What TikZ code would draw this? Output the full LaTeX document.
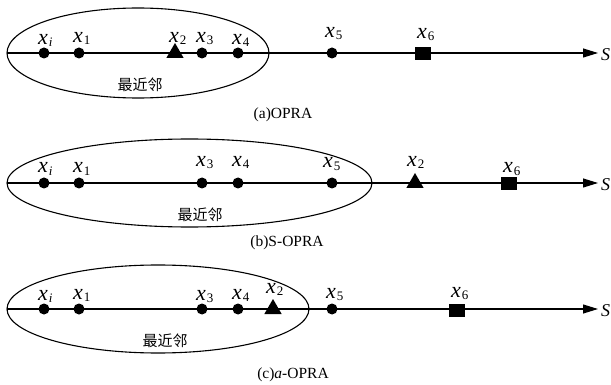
\documentclass[tikz,border=0pt]{standalone}
\usepackage{fontspec}
\setmainfont{Liberation Serif}
\newfontfamily\cjk{Noto Sans CJK SC}
\usetikzlibrary{arrows.meta,shapes.geometric}

% point label: italic x with a lowered subscript
\newcommand{\xlab}[1]{\fontsize{22}{22}\selectfont\textit{x}\kern1pt\fontsize{13}{13}\selectfont\raisebox{-2pt}{#1}}

\tikzset{
  axis/.style={line width=1.1pt,-{Triangle[length=15pt,width=9pt]}},
  hood/.style={draw,line width=1.1pt},
  dot/.style={circle,fill=black,inner sep=0pt,minimum size=11pt},
  tri/.style={regular polygon,regular polygon sides=3,fill=black,inner sep=0pt,minimum size=20pt},
  sq/.style={rectangle,fill=black,inner sep=0pt,minimum width=16pt,minimum height=13pt},
  plabel/.style={anchor=base west,inner sep=0pt},
  slabel/.style={anchor=west,inner sep=0pt,font=\fontsize{18}{18}\selectfont\itshape},
  hoodtext/.style={font=\cjk\fontsize{15}{15}\selectfont,inner sep=0pt},
  caption/.style={font=\fontsize{15.5}{15.5}\selectfont,inner sep=0pt}
}

\begin{document}
\begin{tikzpicture}[x=1pt,y=-1pt]
\useasboundingbox (0,0) rectangle (611,385);

% ---------- (a) OPRA ----------
\draw[hood] (138,53) ellipse [x radius=131,y radius=45];
\coordinate (a0) at (7,53);
\coordinate (a1) at (598,53);
\draw[axis] (a0) -- (a1);
\node[slabel] (aS) at (601,55) {S};
\node[dot] (ai) at (44,53) {};
\node[dot] (a1p) at (79,53) {};
\node[tri] (a2) at (175,53) {};
\node[dot] (a3) at (202,53) {};
\node[dot] (a4) at (238,53) {};
\node[dot] (a5) at (332,53) {};
\node[sq]  (a6) at (423,54) {};
\node[plabel] (lai) at (38,45) {\xlab{\textit{i}}};
\node[plabel] (la1) at (73,43) {\xlab{1}};
\node[plabel] (la2) at (169,43) {\xlab{2}};
\node[plabel] (la3) at (196,43) {\xlab{3}};
\node[plabel] (la4) at (232,45) {\xlab{4}};
\node[plabel] (la5) at (325,38) {\xlab{5}};
\node[plabel] (la6) at (417,39) {\xlab{6}};
\node[hoodtext] (ta) at (140,85) {最近邻};
\node[caption] (ca) at (283,115) {(a)OPRA};

% ---------- (b) S-OPRA ----------
\draw[hood] (189.5,183) ellipse [x radius=182.5,y radius=44];
\coordinate (b0) at (7,183);
\coordinate (b1) at (598,183);
\draw[axis] (b0) -- (b1);
\node[slabel] (bS) at (601,185) {S};
\node[dot] (bi) at (44,183) {};
\node[dot] (b1p) at (79,183) {};
\node[dot] (b3) at (202,183) {};
\node[dot] (b4) at (238,183) {};
\node[dot] (b5) at (332,183) {};
\node[tri] (b2) at (415,183) {};
\node[sq]  (b6) at (509,184) {};
\node[plabel] (lbi) at (38,173) {\xlab{\textit{i}}};
\node[plabel] (lb1) at (73,173) {\xlab{1}};
\node[plabel] (lb3) at (196,167) {\xlab{3}};
\node[plabel] (lb4) at (232,167) {\xlab{4}};
\node[plabel] (lb5) at (323,168) {\xlab{5}};
\node[plabel] (lb2) at (407,167) {\xlab{2}};
\node[plabel] (lb6) at (503,173) {\xlab{6}};
\node[hoodtext] (tb) at (200,215) {最近邻};
\node[caption] (cb) at (287,243) {(b)S-OPRA};

% ---------- (c) a-OPRA ----------
\draw[hood] (158,309) ellipse [x radius=151,y radius=44];
\coordinate (c0) at (7,309);
\coordinate (c1) at (598,309);
\draw[axis] (c0) -- (c1);
\node[slabel] (cS) at (601,311) {S};
\node[dot] (ci) at (44,309) {};
\node[dot] (c1p) at (79,309) {};
\node[dot] (c3) at (202,309) {};
\node[dot] (c4) at (238,309) {};
\node[tri] (c2) at (273,309) {};
\node[dot] (c5) at (332,309) {};
\node[sq]  (c6) at (457,310) {};
\node[plabel] (lci) at (38,300) {\xlab{\textit{i}}};
\node[plabel] (lc1) at (73,299) {\xlab{1}};
\node[plabel] (lc3) at (196,300) {\xlab{3}};
\node[plabel] (lc4) at (232,299) {\xlab{4}};
\node[plabel] (lc2) at (266,293) {\xlab{2}};
\node[plabel] (lc5) at (326,298) {\xlab{5}};
\node[plabel] (lc6) at (451,297) {\xlab{6}};
\node[hoodtext] (tc) at (165,341) {最近邻};
\node[caption] (cc) at (293,375) {(c)\textit{a}-OPRA};
\end{tikzpicture}
\end{document}
